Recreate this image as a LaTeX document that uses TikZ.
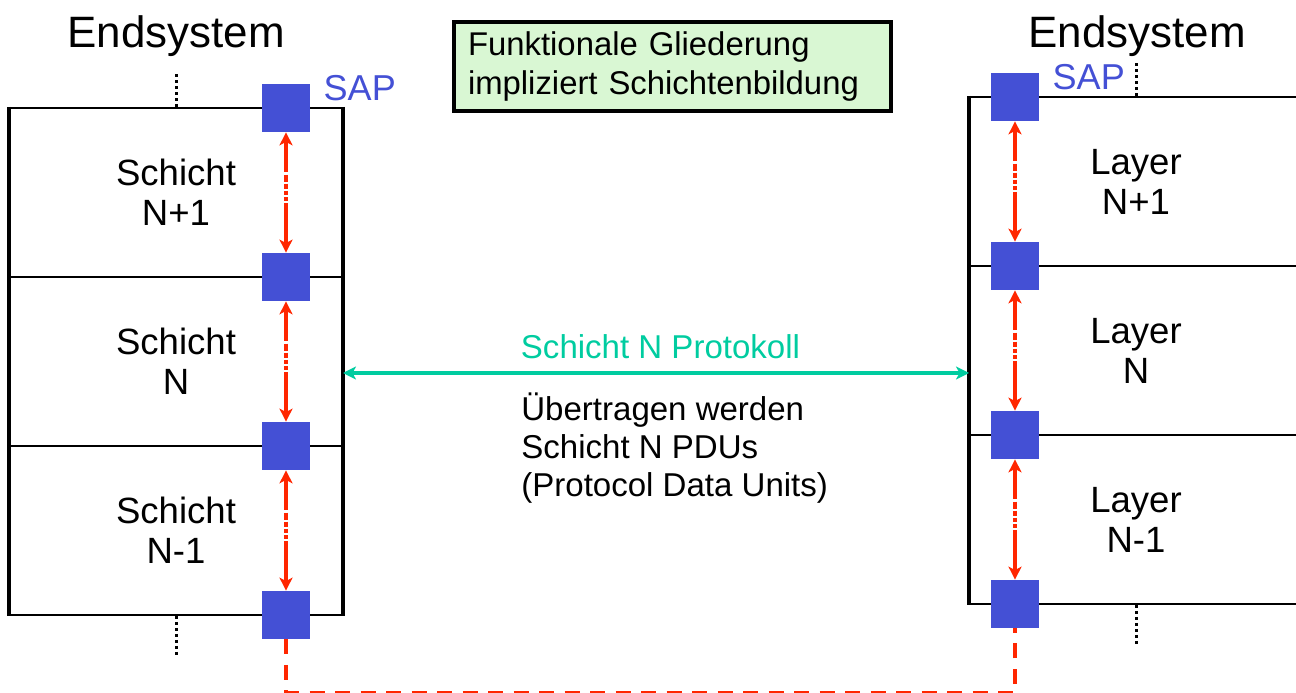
\documentclass[tikz,border=0pt]{standalone}
\usepackage{fontspec}
\setmainfont{Liberation Sans}
\usetikzlibrary{
	positioning,		% Relative placement of labels
	arrows.meta			% Stealth tips
}
\definecolor{sapblue}{RGB}{68,80,213}
\definecolor{saplink}{RGB}{255,38,0}
\definecolor{protocolgreen}{RGB}{0,204,160}
\definecolor{notegreen}{RGB}{217,247,211}

\begin{document}
\begin{tikzpicture}
		\tikzstyle{layer} = [draw, line width=0.04cm, minimum width=6.64cm, minimum height=3.38cm, align=center, font=\fontsize{20.8}{22.8}\selectfont]
		\tikzstyle{sap} = [fill=sapblue, minimum size=0.96cm, inner sep=0pt]
		\tikzstyle{sapLabel} = [inner sep=0pt, text=sapblue, font=\fontsize{20.5}{22}\selectfont]
		\tikzstyle{sapArrow} = [saplink, line width=0.07cm, {Stealth[length=0.26cm, width=0.26cm, inset=0.07cm]}-{Stealth[length=0.26cm, width=0.26cm, inset=0.07cm]}, dash pattern=on 0.62cm off 0.05cm on 0.14cm off 0.04cm on 0.1cm off 0.04cm on 0.08cm off 0.05cm on 0.08cm off 0.04cm on 2cm]
		\tikzstyle{sapDashed} = [saplink, line width=0.07cm, dash pattern=on 0.3cm off 0.21cm]
		\tikzstyle{boxSide} = [line width=0.07cm]
		\tikzstyle{dots} = [line width=0.06cm, dash pattern=on 0.06cm off 0.06cm]
		\tikzstyle{endsystem} = [inner sep=0pt, font=\fontsize{25}{28}\selectfont]
		\tikzstyle{protocolArrow} = [protocolgreen, line width=0.07cm, {Stealth[length=0.26cm, width=0.26cm, inset=0.07cm]}-{Stealth[length=0.26cm, width=0.26cm, inset=0.07cm]}]
		\tikzstyle{midText} = [inner sep=0pt, align=left, font=\fontsize{18.8}{21.6}\selectfont]
		\tikzstyle{note} = [draw, line width=0.08cm, fill=notegreen, text width=8.18cm, inner xsep=0.28cm, minimum height=1.78cm, align=left, font=\fontsize{18.7}{22.2}\selectfont]
		
		\useasboundingbox (0,0) rectangle (25.92,13.86);
		
		% Left end system
		%% Layers
		\foreach \idx/\name in {0/N+1, 1/N, 2/N-1}{
			\node[layer] at (3.52, 10.01 - 3.38*\idx) (layerL\idx) {Schicht\\\name};
		}
		\draw[boxSide] (layerL0.north west) -- (layerL2.south west);
		\draw[boxSide] (layerL0.north east) -- (layerL2.south east);
		\draw[dots] (layerL0.north) -- ++(0, 0.66);
		\draw[dots] (layerL2.south) -- ++(0, -0.8);
		%% SAPs and arrows
		\foreach \idx in {0, ..., 3}{
			\node[sap] at (5.72, 11.7 - 3.38*\idx) (sapL\idx) {};
		}
		\foreach \idx in {0, 1, 2}{
			\pgfmathtruncatemacro{\nextIdx}{\idx + 1}
			\draw[sapArrow] (sapL\idx.south) to (sapL\nextIdx.north);
		}
		\node[sapLabel, right=0.26cm of sapL0.north east, yshift=-0.08cm] (sapLabelL) {SAP};
		\node[endsystem] at (3.52, 13.13) (endsysL) {Endsystem};
		
		% Right end system
		%% Layers
		\foreach \idx/\name in {0/N+1, 1/N, 2/N-1}{
			\node[layer] at (22.72, 10.23 - 3.38*\idx) (layerR\idx) {Layer\\\name};
		}
		\draw[boxSide] (layerR0.north west) -- (layerR2.south west);
		\draw[dots] (layerR0.north) -- ++(0, 0.66);
		\draw[dots] (layerR2.south) -- ++(0, -0.8);
		%% SAPs and arrows
		\foreach \idx in {0, ..., 3}{
			\node[sap] at (20.3, 11.92 - 3.38*\idx) (sapR\idx) {};
		}
		\foreach \idx in {0, 1, 2}{
			\pgfmathtruncatemacro{\nextIdx}{\idx + 1}
			\draw[sapArrow] (sapR\idx.south) to (sapR\nextIdx.north);
		}
		\node[sapLabel, right=0.26cm of sapR0.north east, yshift=-0.08cm] (sapLabelR) {SAP};
		\node[endsystem] at (22.74, 13.13) (endsysR) {Endsystem};
		
		% Lower SAPs joined below
		\draw[sapDashed] (sapL3.south) -- ++(0, -1.06) -| (sapR3.south);
		
		% Protocol between layers N
		\draw[protocolArrow] ([yshift=-0.23cm]layerL1.east) -- ([yshift=-0.23cm]layerL1.east -| layerR1.west);
		\node[midText, text=protocolgreen] at (13.21, 6.92) (protocolLabel) {Schicht N Protokoll};
		\node[midText, anchor=west] at (10.42, 4.9) (pduNote) {Übertragen werden\\Schicht N PDUs\\(Protocol Data Units)};
		
		% Note
		\node[note] at (13.45, 12.53) (noteBox) {Funktionale Gliederung\\impliziert Schichtenbildung};
	\end{tikzpicture}
\end{document}
